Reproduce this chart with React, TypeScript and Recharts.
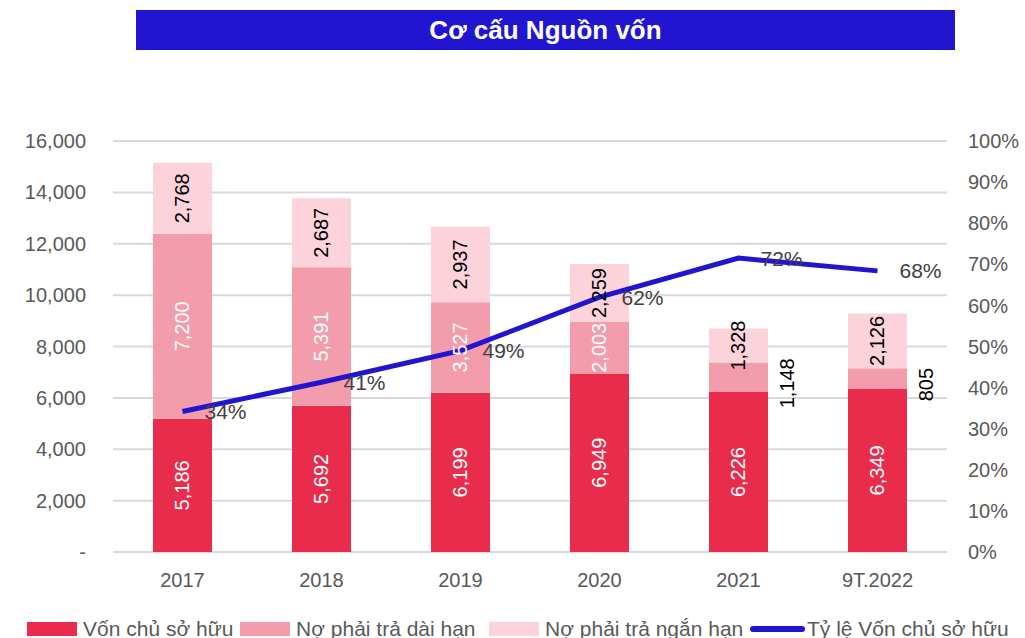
import React from 'react';
import { ComposedChart, Bar, Line, XAxis, YAxis, CartesianGrid, LabelList } from 'recharts';

const categories = ['2017', '2018', '2019', '2020', '2021', '9T.2022'];
const vonChuSoHuu = [5186, 5692, 6199, 6949, 6226, 6349];
const noDaiHan = [7200, 5391, 3527, 2003, 1148, 805];
const noNganHan = [2768, 2687, 2937, 2259, 1328, 2126];
const tyLeVcsh = [34.2, 41.3, 49.0, 62.0, 71.5, 68.4];
const leftTicks = [0, 2000, 4000, 6000, 8000, 10000, 12000, 14000, 16000];
const rightTicks = [0, 10, 20, 30, 40, 50, 60, 70, 80, 90, 100];

const data = categories.map((c, i) => ({
  name: c,
  vcsh: vonChuSoHuu[i],
  dh: noDaiHan[i],
  nh: noNganHan[i],
  tl: tyLeVcsh[i],
}));

const RED = '#E92C4B';
const MID = '#F39CAB';
const LIGHT = '#FCD3DB';
const BLUE = '#2115D0';
const FONT = '"Liberation Sans", Arial, sans-serif';

const fmt = (v: number) => v.toLocaleString('en-US');

const makeLabel = (color: string, outsideIdx: number[] = []) => (props: any) => {
  const { x, y, width, height, value, index } = props;
  const outside = outsideIdx.includes(index);
  const cx = outside ? Number(x) + Number(width) + 19 : Number(x) + Number(width) / 2;
  const cy = Number(y) + Number(height) / 2 + (outside ? 6 : 0);
  return (
    <text
      x={cx}
      y={cy}
      transform={`rotate(-90 ${cx} ${cy})`}
      textAnchor="middle"
      dominantBaseline="central"
      fill={outside ? '#000000' : color}
      fontSize={20}
      fontFamily={FONT}
    >
      {fmt(Number(value))}
    </text>
  );
};

const legendItems = [
  { label: 'Vốn chủ sở hữu', color: RED, type: 'rect', left: 27 },
  { label: 'Nợ phải trả dài hạn', color: MID, type: 'rect', left: 240 },
  { label: 'Nợ phải trả ngắn hạn', color: LIGHT, type: 'rect', left: 489 },
  { label: 'Tỷ lệ Vốn chủ sở hữu', color: BLUE, type: 'line', left: 750 },
];

export default function App() {
  return (
    <div style={{ position: 'absolute', left: 0, top: 0, width: 1025, height: 638, background: '#fff', overflow: 'hidden', fontFamily: FONT }}>
      <div
        style={{
          position: 'absolute',
          left: 136,
          top: 10,
          width: 819,
          height: 40,
          background: BLUE,
          color: '#fff',
          fontWeight: 'bold',
          fontSize: 26,
          lineHeight: '40px',
          textAlign: 'center',
          fontFamily: FONT,
        }}
      >
        Cơ cấu Nguồn vốn
      </div>
      <div style={{ position: 'absolute', left: 0, top: 0 }}>
        <ComposedChart
          width={1025}
          height={638}
          data={data}
          margin={{ top: 141, right: 18, bottom: 56, left: 53 }}
          style={{ fontFamily: FONT }}
        >
          <CartesianGrid yAxisId="left" vertical={false} stroke="#D9D9D9" strokeWidth={2} />
          <XAxis
            dataKey="name"
            axisLine={false}
            tickLine={false}
            height={30}
            tickMargin={15}
            tick={{ fill: '#595959', fontSize: 20, fontFamily: FONT }}
          />
          <YAxis
            yAxisId="left"
            domain={[0, 16000]}
            ticks={leftTicks}
            width={60}
            axisLine={false}
            tickLine={false}
            tickMargin={21}
            tickFormatter={(v: number) => (v === 0 ? '-' : fmt(v))}
            tick={{ fill: '#595959', fontSize: 20, fontFamily: FONT }}
          />
          <YAxis
            yAxisId="right"
            orientation="right"
            domain={[0, 100]}
            ticks={rightTicks}
            width={60}
            axisLine={false}
            tickLine={false}
            tickMargin={15}
            tickFormatter={(v: number) => `${v}%`}
            tick={{ fill: '#595959', fontSize: 20, fontFamily: FONT }}
          />
          <Bar yAxisId="left" dataKey="vcsh" stackId="a" fill={RED} barSize={59} isAnimationActive={false}>
            <LabelList dataKey="vcsh" content={makeLabel('#FFFFFF')} />
          </Bar>
          <Bar yAxisId="left" dataKey="dh" stackId="a" fill={MID} barSize={59} isAnimationActive={false}>
            <LabelList dataKey="dh" content={makeLabel('#FFFFFF', [4, 5])} />
          </Bar>
          <Bar yAxisId="left" dataKey="nh" stackId="a" fill={LIGHT} barSize={59} isAnimationActive={false}>
            <LabelList dataKey="nh" content={makeLabel('#000000')} />
          </Bar>
          <Line
            yAxisId="right"
            dataKey="tl"
            stroke={BLUE}
            strokeWidth={5}
            dot={false}
            activeDot={false}
            isAnimationActive={false}
          >
            <LabelList
              dataKey="tl"
              position="right"
              offset={22}
              fill="#404040"
              fontSize={21}
              fontFamily={FONT}
              formatter={(v: any) => `${Math.round(Number(v))}%`}
            />
          </Line>
        </ComposedChart>
      </div>
      {legendItems.map((it, i) => (
        <div
          key={i}
          style={{ position: 'absolute', left: it.left, top: 616, display: 'flex', alignItems: 'center', whiteSpace: 'nowrap' }}
        >
          {it.type === 'rect' ? (
            <div style={{ width: 50, height: 14, background: it.color, marginRight: 6 }} />
          ) : (
            <div style={{ width: 55, height: 6, background: it.color, borderRadius: 3, marginRight: 2 }} />
          )}
          <span style={{ color: '#595959', fontSize: 21, lineHeight: '26px', fontFamily: FONT }}>{it.label}</span>
        </div>
      ))}
    </div>
  );
}
